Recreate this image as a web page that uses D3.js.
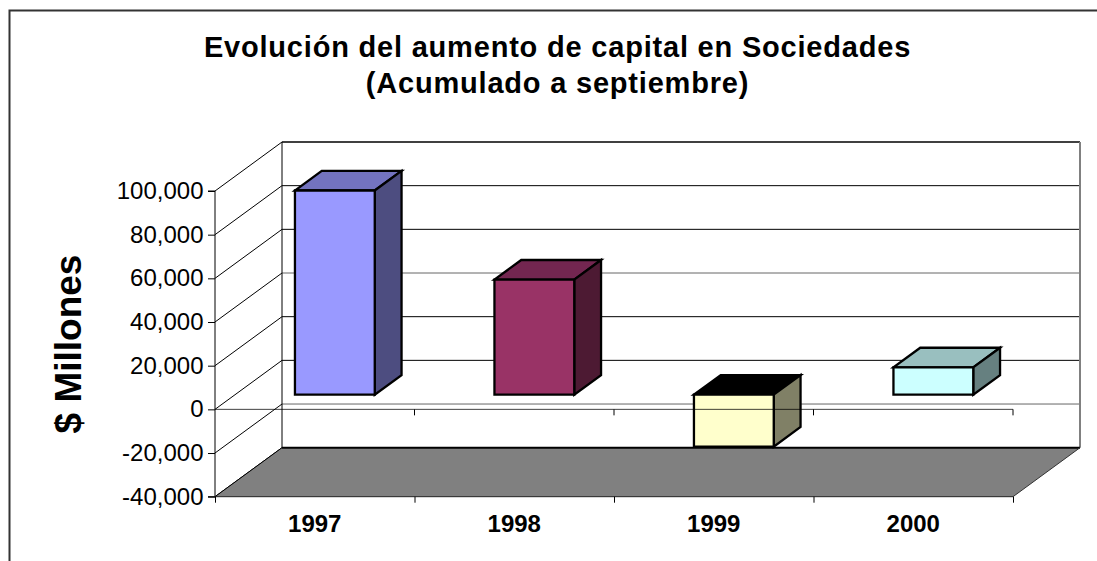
<!DOCTYPE html>
<html><head><meta charset="utf-8">
<script src="https://cdn.jsdelivr.net/npm/d3@7/dist/d3.min.js"></script>
<style>html,body{margin:0;padding:0;background:#fff}svg{display:block}text{font-family:"Liberation Sans",Arial,sans-serif;fill:#000}</style>
</head><body><svg id="c" width="1097" height="561"></svg>
<script>
const categories = ["1997","1998","1999","2000"];
const values = [93500,52700,-23800,12500];
const frontColors = ["#9999FF","#993366","#FFFFCC","#CCFFFF"];
const topColors = ["#7373BF","#732650","#000000","#99BFBF"];
const sideColors = ["#4D4D80","#4D1A33","#808066","#668080"];
const yTicks = [-40000,-20000,0,20000,40000,60000,80000,100000];
const titleLines = ["Evolución del aumento de capital en Sociedades","(Acumulado a septiembre)"];
const yTitle = "$ Millones";

const svg = d3.select("#c");
const x = d3.scaleBand().domain(categories).range([215,1013]).paddingInner(0.6).paddingOuter(0.3);
const xEdge = d3.scaleLinear().domain([0,categories.length]).range([215,1013]);
const y = d3.scaleLinear().domain([-40000,100000]).range([496.7,191]);
const depthX = d3.scaleLinear().domain([0,1]).range([0,67]);
const depthY = d3.scaleLinear().domain([0,1]).range([0,-49]);
const P = (px,v,d)=>[px+depthX(d), y(v)+depthY(d)];
const poly = pts => "M"+pts.map(p=>p.join(",")).join("L")+"Z";
const seg = (a,b)=>"M"+a.join(",")+"L"+b.join(",");
const [yMin,yMax]=[-40000,100000], x0=215, x1=1013;
const fmt = v => d3.format(",")(v).replace("\u2212","-");

// frame
svg.append("path").attr("d","M9.5,561V10.5H1097").attr("fill","none").attr("stroke","#333").attr("stroke-width",2);

// walls
const wall = svg.append("g").attr("fill","none");
yTicks.filter(t=>t>yMin).forEach(t=>{
  wall.append("path").attr("d",seg(P(x0,t,1),P(x1,t,1))).attr("stroke",t===40000||t===-20000?"#666":"#000").attr("stroke-width",t===100000?1.5:1);
});
yTicks.forEach(t=>{
  wall.append("path").attr("d",seg(P(x0,t,0),P(x0,t,1))).attr("stroke","#000").attr("stroke-width",1);
});
wall.append("path").attr("d",seg(P(x0,yMin,1),P(x0,yMax,1))).attr("stroke","#000");
wall.append("path").attr("d",seg(P(x1,yMin,1),P(x1,yMax,1))).attr("stroke","#808080").attr("stroke-width",2);

// floor
svg.append("path").attr("d",poly([P(x0,yMin,0),P(x1,yMin,0),P(x1,yMin,1),P(x0,yMin,1)])).attr("fill","#808080").attr("stroke","none");
svg.append("path").attr("d",seg(P(x0,yMin,1),P(x1,yMin,1))).attr("stroke","#000").attr("stroke-width",2);
svg.append("path").attr("d",seg(P(x0,yMin,0),P(x0,yMin,1))).attr("stroke","#000");
svg.append("path").attr("d",seg(P(x0,yMin,0),P(x1,yMin,0))).attr("stroke","#222");
svg.append("path").attr("d",seg(P(x1,yMin,0),P(x1,yMin,1))).attr("stroke","#333");

// bars
const d0=0.3,d1=0.7;
const bars = svg.append("g").attr("stroke","#000").attr("stroke-width",2.3).attr("stroke-linejoin","miter");
categories.forEach((c,i)=>{
  const l=x(c), r=l+x.bandwidth(), hi=Math.max(0,values[i]), lo=Math.min(0,values[i]);
  const g=bars.append("g");
  g.append("path").attr("d",poly([P(l,hi,d0),P(r,hi,d0),P(r,hi,d1),P(l,hi,d1)])).attr("fill",topColors[i]);
  g.append("path").attr("d",poly([P(r,hi,d0),P(r,hi,d1),P(r,lo,d1),P(r,lo,d0)])).attr("fill",sideColors[i]);
  g.append("path").attr("d",poly([P(l,hi,d0),P(r,hi,d0),P(r,lo,d0),P(l,lo,d0)])).attr("fill",frontColors[i]);
});

// front zero line on top
svg.append("path").attr("d",seg(P(x0,0,0),P(x1,0,0))).attr("stroke","#000").attr("stroke-opacity",0.75);
d3.range(1,categories.length+1).forEach(t=>{
  svg.append("path").attr("d",seg([xEdge(t),y(0)],[xEdge(t),y(0)+6])).attr("stroke","#000");
});

// y axis
const gy = svg.append("g").attr("transform",`translate(${x0},0)`)
  .call(d3.axisLeft(y).tickValues(yTicks).tickFormat(fmt).tickSize(7).tickPadding(4.5));
gy.selectAll("path,line").attr("stroke","#000");
gy.select(".domain").attr("d",`M-7,${y(yMax)}H0V${y(yMin)}H-7`);
gy.selectAll("text").attr("font-size",24).attr("font-family","Liberation Sans").attr("fill","#000").attr("dy",0).attr("y",0)
  .attr("transform","translate(0,7.5)");

// x axis
const gx = svg.append("g").attr("transform",`translate(0,${y(yMin)})`)
  .call(d3.axisBottom(xEdge).tickValues(d3.range(0,5)).tickFormat("").tickSize(6));
gx.selectAll("path,line").attr("stroke","#000");
gx.select(".domain").remove();
svg.append("g").selectAll("text").data(categories).join("text")
  .attr("x",c=>x(c)+x.bandwidth()/2).attr("y",532).attr("text-anchor","middle")
  .attr("font-size",24).attr("font-weight","bold").text(c=>c);

// titles
svg.append("g").selectAll("text").data(titleLines).join("text")
  .attr("x",557.5).attr("y",(d,i)=>57+i*35.5).attr("text-anchor","middle")
  .attr("font-size",29).attr("font-weight","bold").attr("letter-spacing",0.8).text(d=>d);
svg.append("text").attr("transform","translate(81,344) rotate(-90)").attr("text-anchor","middle")
  .attr("font-size",37).attr("font-weight","bold").text(yTitle);
</script></body></html>
